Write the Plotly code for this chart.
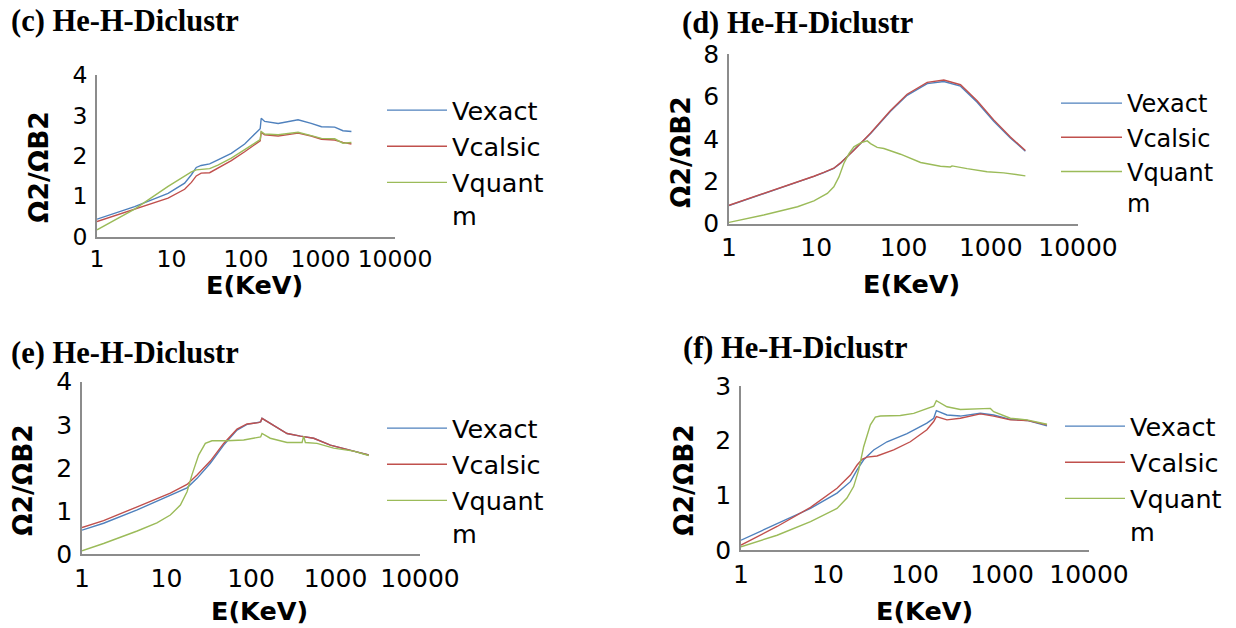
import plotly.graph_objects as go

# ---------------- data ----------------
tick_vals_x = [1, 10, 100, 1000, 10000]
tick_text_x = ["1", "10", "100", "1000", "10000"]
series_names = ["Vexact", "Vcalsic", "Vquant<br>m"]
series_colors = ["#4F81BD", "#C0504D", "#9BBB59"]

# (c)
c_E_bc = [1, 3.2, 9, 15, 18.5, 21.5, 25, 32.5, 42, 63.5, 96, 142, 155, 160, 178, 270, 500, 750, 1030, 1550, 2000, 2600]
c_exact = [0.43, 0.74, 1.07, 1.32, 1.53, 1.71, 1.76, 1.80, 1.90, 2.06, 2.29, 2.62, 2.67, 2.93, 2.85, 2.80, 2.89, 2.80, 2.72, 2.71, 2.62, 2.60]
c_calsic = [0.37, 0.68, 0.95, 1.17, 1.34, 1.50, 1.57, 1.58, 1.69, 1.88, 2.10, 2.33, 2.37, 2.58, 2.52, 2.49, 2.56, 2.49, 2.41, 2.39, 2.33, 2.29]
c_quant = [0.165, 0.68, 1.24, 1.50, 1.60, 1.65, 1.66, 1.68, 1.77, 1.94, 2.15, 2.37, 2.40, 2.60, 2.54, 2.52, 2.58, 2.50, 2.43, 2.42, 2.31, 2.33]

# (d)
d_E_bc = [1, 2.5, 3.9, 6.1, 9.4, 12.2, 15.9, 19, 27, 42, 71, 110, 187, 290, 450, 698, 1082, 1680, 2495]
d_exact = [0.85, 1.40, 1.67, 1.95, 2.22, 2.40, 2.60, 2.85, 3.45, 4.25, 5.30, 6.05, 6.60, 6.70, 6.48, 5.72, 4.83, 4.04, 3.41]
d_calsic = [0.86, 1.41, 1.68, 1.96, 2.23, 2.41, 2.61, 2.86, 3.46, 4.27, 5.33, 6.10, 6.66, 6.77, 6.55, 5.79, 4.89, 4.08, 3.45]
d_E_q = [1, 2.5, 6.1, 9.4, 13.4, 15.9, 18.2, 20.7, 23.7, 27, 32.2, 38.4, 41.9, 49.9, 59.6, 92.4, 157, 265, 345, 360, 536, 908, 1409, 2495]
d_quant = [0.05, 0.40, 0.79, 1.07, 1.42, 1.73, 2.20, 2.83, 3.30, 3.62, 3.81, 3.90, 3.77, 3.59, 3.54, 3.27, 2.88, 2.70, 2.67, 2.72, 2.59, 2.44, 2.39, 2.25]

# (e)
e_E_bc = [1, 1.8, 4.5, 11.1, 17.5, 23, 33, 47.5, 68.3, 89.7, 123, 130, 135, 169, 267, 384, 552, 869, 1250, 1641, 2470]
e_exact = [0.56, 0.72, 1.03, 1.36, 1.54, 1.76, 2.11, 2.53, 2.88, 3.01, 3.05, 3.07, 3.15, 3.03, 2.80, 2.74, 2.69, 2.53, 2.46, 2.39, 2.30]
e_calsic = [0.62, 0.78, 1.10, 1.42, 1.62, 1.84, 2.16, 2.57, 2.90, 3.02, 3.05, 3.07, 3.15, 3.03, 2.80, 2.74, 2.69, 2.53, 2.46, 2.39, 2.30]
e_E_q = [1, 1.8, 4.5, 7.7, 11.1, 14.6, 17.5, 20, 24, 28.8, 34.5, 52, 82, 118, 130, 135, 169, 267, 402, 420, 440, 604, 950, 1641, 2470]
e_quant = [0.08, 0.25, 0.54, 0.73, 0.91, 1.14, 1.45, 1.84, 2.30, 2.57, 2.63, 2.63, 2.65, 2.71, 2.72, 2.80, 2.69, 2.59, 2.59, 2.74, 2.59, 2.57, 2.46, 2.39, 2.29]

# (f)
f_E_b = [1, 2.6, 6.3, 12.7, 18.1, 21.5, 25.7, 33.5, 47.7, 81, 137, 164, 176, 233, 332, 564, 802, 1247, 1937, 3290]
f_exact = [0.18, 0.48, 0.76, 1.04, 1.25, 1.46, 1.65, 1.83, 1.98, 2.13, 2.32, 2.41, 2.55, 2.47, 2.45, 2.50, 2.47, 2.39, 2.37, 2.27]
f_E_c = [1, 2.6, 6.3, 12.7, 18.1, 21.5, 24.6, 28.1, 36.6, 56.9, 88.3, 137, 164, 176, 233, 332, 564, 802, 1247, 1937, 3290]
f_calsic = [0.09, 0.43, 0.78, 1.13, 1.37, 1.55, 1.66, 1.70, 1.72, 1.83, 1.98, 2.20, 2.35, 2.44, 2.38, 2.41, 2.49, 2.45, 2.38, 2.37, 2.29]
f_E_q = [1, 2.6, 6.3, 12.7, 16.5, 19.7, 22.5, 25.7, 30.7, 35, 40, 67.8, 96.6, 137, 164, 176, 233, 332, 564, 735, 802, 1247, 1937, 3290]
f_quant = [0.06, 0.27, 0.52, 0.76, 0.95, 1.16, 1.46, 1.89, 2.29, 2.43, 2.45, 2.46, 2.50, 2.59, 2.63, 2.73, 2.62, 2.57, 2.58, 2.59, 2.53, 2.41, 2.38, 2.30]

panel_titles = ["(c) He-H-Diclustr", "(d) He-H-Diclustr", "(e) He-H-Diclustr", "(f) He-H-Diclustr"]
y_title = "Ω2/ΩB2"
x_title = "E(KeV)"
y_ranges = [[0, 4], [0, 8], [0, 4], [0, 3]]
y_dticks = [1, 2, 1, 1]

panel_series = [
    [(c_E_bc, c_exact), (c_E_bc, c_calsic), (c_E_bc, c_quant)],
    [(d_E_bc, d_exact), (d_E_bc, d_calsic), (d_E_q, d_quant)],
    [(e_E_bc, e_exact), (e_E_bc, e_calsic), (e_E_q, e_quant)],
    [(f_E_b, f_exact), (f_E_c, f_calsic), (f_E_q, f_quant)],
]

# ---------------- layout (pixels) ----------------
W, H = 1236, 628
# plot boxes: x0, x1, y_bottom(px), y_top(px)
boxes = [(97, 395, 236.5, 75), (729, 1078, 223.5, 54), (82, 420, 554.3, 381.7), (741, 1089, 550, 386)]
tick_font = [23.5, 25, 25, 25]
title_pos = [(10, 21), (681, 23), (10, 353), (682, 348)]
ytitle_pos = [(38, 167), (681, 152), (22, 480), (683, 480)]
xtitle_pos = [(254, 285), (911, 284), (259, 611), (924, 611)]
legend_pos = [(382, 87), (1056, 81), (382, 405), (1060, 403)]
legend_font = [25.5, 24, 25.5, 25.5]
legend_itemw = [60, 61, 60, 60]

def px(x):
    return x / W

def py(y):
    return 1 - y / H

fig = go.Figure()
layout = dict(
    width=W, height=H, autosize=False,
    margin=dict(l=0, r=0, t=0, b=0, autoexpand=False),
    paper_bgcolor="white", plot_bgcolor="white",
    font=dict(family="DejaVu Sans", color="black"),
    annotations=[],
)

for i in range(4):
    sfx = "" if i == 0 else str(i + 1)
    leg = "legend" if i == 0 else "legend" + str(i + 1)
    for k, (ex, ey) in enumerate(panel_series[i]):
        fig.add_trace(go.Scatter(
            x=ex, y=ey, mode="lines", name=series_names[k],
            line=dict(color=series_colors[k], width=1.4),
            xaxis="x" + sfx, yaxis="y" + sfx, legend=leg,
        ))
    x0, x1, yb, yt = boxes[i]
    layout["xaxis" + sfx] = dict(
        type="log", range=[0, 4], domain=[px(x0), px(x1)], anchor="y" + sfx,
        tickvals=tick_vals_x, ticktext=tick_text_x, showgrid=False, zeroline=False,
        showline=True, linecolor="#8c8c8c", linewidth=1.5, automargin=False,
        ticks="outside", ticklen=1, tickcolor="rgba(0,0,0,0)",
        tickfont=dict(family="DejaVu Sans", size=tick_font[i], color="black"),
    )
    layout["yaxis" + sfx] = dict(
        range=y_ranges[i], domain=[py(yb), py(yt)], anchor="x" + sfx,
        dtick=y_dticks[i], tick0=0, showgrid=False, zeroline=False,
        showline=True, linecolor="#8c8c8c", linewidth=1.5, automargin=False,
        ticks="outside", ticklen=3, tickcolor="rgba(0,0,0,0)",
        tickfont=dict(family="DejaVu Sans", size=tick_font[i], color="black"),
    )
    lx, ly = legend_pos[i]
    layout[leg] = dict(
        x=px(lx), y=py(ly), xanchor="left", yanchor="top",
        font=dict(family="DejaVu Sans", size=legend_font[i], color="black"),
        itemwidth=legend_itemw[i], bgcolor="rgba(0,0,0,0)", borderwidth=0,
        valign="top", tracegroupgap=0,
    )
    tx, ty = title_pos[i]
    layout["annotations"].append(dict(
        text="<b>" + panel_titles[i] + "</b>", x=px(tx), y=py(ty), xref="paper", yref="paper",
        xanchor="left", yanchor="middle", showarrow=False, borderpad=0,
        font=dict(family="Liberation Serif", size=30.5, color="black"),
    ))
    ax_, ay_ = ytitle_pos[i]
    layout["annotations"].append(dict(
        text="<b>" + y_title + "</b>", x=px(ax_), y=py(ay_), xref="paper", yref="paper",
        xanchor="center", yanchor="middle", showarrow=False, textangle=-90,
        font=dict(family="DejaVu Sans", size=26.5, color="black"),
    ))
    bx, by = xtitle_pos[i]
    layout["annotations"].append(dict(
        text="<b>" + x_title + "</b>", x=px(bx), y=py(by), xref="paper", yref="paper",
        xanchor="center", yanchor="middle", showarrow=False, borderpad=0,
        font=dict(family="DejaVu Sans", size=25.5, color="black"),
    ))

fig.update_layout(**layout)
fig.write_html("out.html", config={"displayModeBar": False},
               post_script="document.body.style.margin='0';")
